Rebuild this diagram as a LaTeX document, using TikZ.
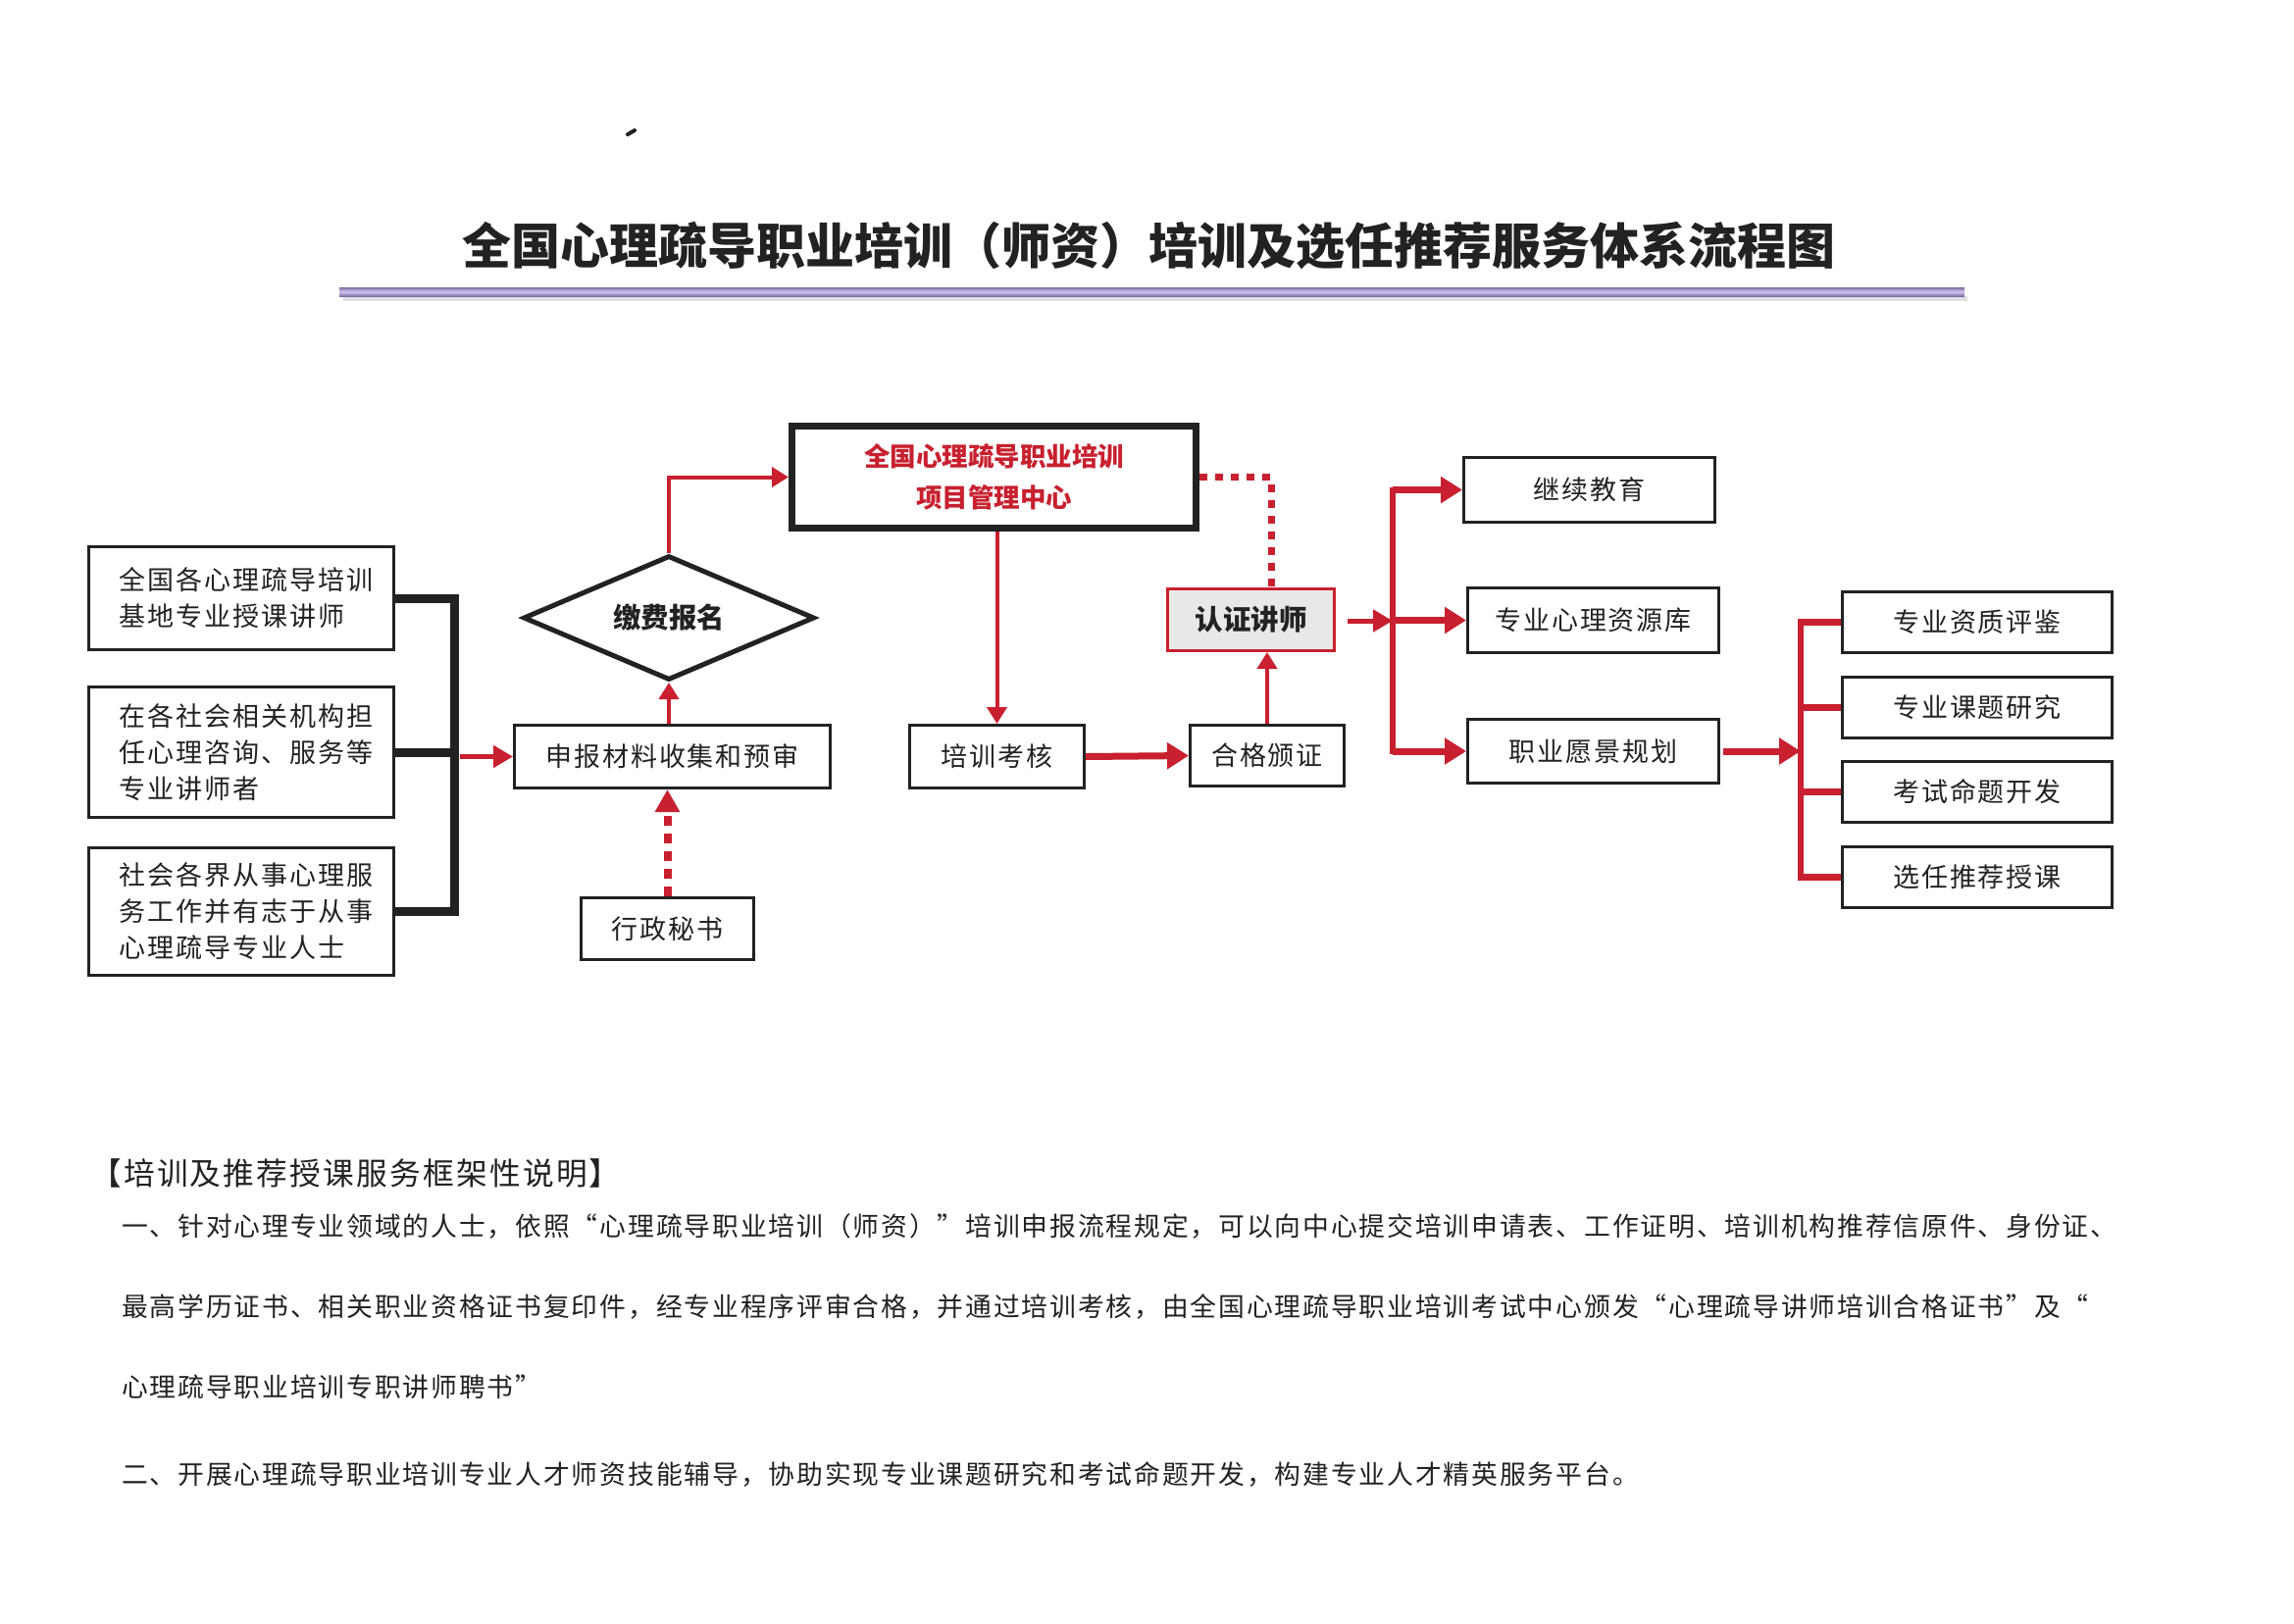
\documentclass[tikz,border=0pt]{standalone}
\usepackage{fontspec}
\newfontfamily\cjk[LetterSpace=7]{Noto Sans CJK SC}
\newfontfamily\cjkt{Noto Sans CJK SC}
\usetikzlibrary{arrows.meta,shapes.geometric}
\definecolor{cred}{RGB}{200,32,46}
\definecolor{cblk}{RGB}{34,34,34}
\definecolor{cgray}{RGB}{232,232,232}
\definecolor{pdark}{RGB}{125,108,165}
\definecolor{plight}{RGB}{210,198,238}
\begin{document}
\begin{tikzpicture}[x=1pt,y=-1pt,
  box/.style={draw=cblk, line width=3pt, inner sep=0pt, text=cblk,
    font=\cjk\fontsize{27}{37}\selectfont},
  lbox/.style={box, minimum width=311pt, align=left},
  rbox/.style={box, minimum width=275pt, minimum height=62pt},
  mbox/.style={box, minimum width=256pt, minimum height=66pt},
  mainbox/.style={draw=cblk, line width=7pt, inner sep=0pt, text=cred, align=center,
    minimum width=412pt, minimum height=104pt,
    font=\cjkt\bfseries\fontsize{26.5}{42}\selectfont},
  diabox/.style={draw=cblk, line width=5pt, shape=diamond, aspect=2.29, inner sep=0pt,
    minimum width=297pt, minimum height=127pt, text=cblk,
    font=\cjkt\bfseries\fontsize{28.5}{32}\selectfont},
  rzstyle/.style={draw=cred, fill=cgray, line width=3pt, inner sep=0pt, text=cblk,
    minimum width=170pt, minimum height=63pt,
    font=\cjkt\bfseries\fontsize{28.5}{32}\selectfont},
  para/.style={anchor=west, inner sep=0pt, text=cblk, font=\cjk\fontsize{26.8}{32}\selectfont},
  blkline/.style={draw=cblk, line width=9pt, line join=miter},
  rthin/.style={draw=cred, line width=4pt, -{Triangle[length=17pt,width=20pt]}},
  rmid/.style={draw=cred, line width=5pt, -{Triangle[length=20pt,width=22pt]}},
  rthick/.style={draw=cred, line width=7pt, -{Triangle[length=22pt,width=26pt]}},
  rbar/.style={draw=cred, line width=6pt, line cap=rect},
  rstub/.style={draw=cred, line width=7pt},
  rdots/.style={draw=cred, line width=7pt, dash pattern=on 8pt off 8pt},
  rdash/.style={draw=cred, line width=8pt, dash pattern=on 10pt off 8pt,
    -{Triangle[length=23pt,width=24pt]}}
]
\useasboundingbox[fill=white] (0,0) rectangle (2339,1655);

% stray mark
\draw[cblk, line width=4pt, line cap=round] (640,137) -- (647,133);

% title
\node[inner sep=0pt, text=cblk, font=\cjkt\bfseries\fontsize{50}{58}\selectfont] (title) at (1171,251)
  {全国心理疏导职业培训（师资）培训及选任推荐服务体系流程图};
\fill[black!12] (350,302) rectangle (2006,307);
\shade[top color=pdark, bottom color=pdark, middle color=plight] (346,293) rectangle (2003,302);

% left boxes
\node[lbox, minimum height=105pt] (b1) at (246,610) {\hspace*{10pt}全国各心理疏导培训\\\hspace*{10pt}基地专业授课讲师};
\node[lbox, minimum height=133pt] (b2) at (246,767) {\hspace*{10pt}在各社会相关机构担\\\hspace*{10pt}任心理咨询、服务等\\\hspace*{10pt}专业讲师者};
\node[lbox, minimum height=130pt] (b3) at (246,929.5) {\hspace*{10pt}社会各界从事心理服\\\hspace*{10pt}务工作并有志于从事\\\hspace*{10pt}心理疏导专业人士};

\node[box, minimum width=322pt, minimum height=64pt] (sb) at (685.5,771.5) {申报材料收集和预审};
\node[diabox] (dia) at (682,630) {缴费报名};
\node[box, minimum width=176pt, minimum height=63pt] (xz) at (680.5,947) {行政秘书};

\node[mainbox] (main) at (1013.5,486.5) {全国心理疏导职业培训\\项目管理中心};
\node[box, minimum width=178pt, minimum height=64pt] (px) at (1016.5,771.5) {培训考核};
\node[box, minimum width=157pt, minimum height=62pt] (hg) at (1292,770.5) {合格颁证};
\node[rzstyle] (rz) at (1275.5,632) {认证讲师};

\node[mbox] (jx) at (1620.5,499.5) {继续教育};
\node[mbox] (zy) at (1624.5,632.5) {专业心理资源库};
\node[mbox, minimum height=65pt] (zyy) at (1624.5,766) {职业愿景规划};

\node[rbox] (r1) at (2016,634) {专业资质评鉴};
\node[rbox] (r2) at (2016,721) {专业课题研究};
\node[rbox] (r3) at (2016,807.5) {考试命题开发};
\node[rbox] (r4) at (2016,894.5) {选任推荐授课};

% connectors
\coordinate (bk) at (463,771.5);
\coordinate (bka) at (469,771.5);
\draw[blkline] (b1.east) -| (bk) |- (b3.east);
\draw[blkline] (b2.east) -- (b2.east -| bk);
\draw[rmid] (bka) -- (sb.west);
\draw[rthin] (dia.south |- sb.north) -- (dia.south);
\draw[rthin] (dia.north) |- (main.west);
\draw[rdash] (xz.north) -- (xz.north |- sb.south);
\draw[rthin] (px.north |- main.south) -- (px.north);
\draw[rthick] (px.east) -- (hg.west);
\draw[rthin] (hg.north) -- (hg.north |- rz.south);
\draw[rdots] (main.east) -| ([xshift=20.5pt]rz.north);

\coordinate (rs) at (1420,633);
\coordinate (rsa) at (1374,633);
\draw[rmid] (rsa) -- (rs);
\draw[rbar] (rs |- jx.west) -- (rs |- zyy.west);
\draw[rthick] (rs |- jx.west) -- (jx.west);
\draw[rthick] (rs |- zy.west) -- (zy.west);
\draw[rthick] (rs |- zyy.west) -- (zyy.west);

\coordinate (rt) at (1836,766);
\coordinate (rta) at (1757,766);
\draw[rthick] (rta) -- (rt);
\draw[rbar] (rt |- r1.west) -- (rt |- r4.west);
\draw[rstub] (rt |- r1.west) -- (r1.west);
\draw[rstub] (rt |- r2.west) -- (r2.west);
\draw[rstub] (rt |- r3.west) -- (r3.west);
\draw[rstub] (rt |- r4.west) -- (r4.west);

% explanation text
\node[para, font=\cjk\fontsize{31.7}{36}\selectfont] (h0) at (92,1196) {【培训及推荐授课服务框架性说明】};
\node[para] (p1) at (124,1250) {一、针对心理专业领域的人士，依照“心理疏导职业培训（师资）”培训申报流程规定，可以向中心提交培训申请表、工作证明、培训机构推荐信原件、身份证、};
\node[para] (p2) at (124,1333) {最高学历证书、相关职业资格证书复印件，经专业程序评审合格，并通过培训考核，由全国心理疏导职业培训考试中心颁发“心理疏导讲师培训合格证书”及“};
\node[para] (p3) at (124,1414) {心理疏导职业培训专职讲师聘书”};
\node[para] (p4) at (124,1503) {二、开展心理疏导职业培训专业人才师资技能辅导，协助实现专业课题研究和考试命题开发，构建专业人才精英服务平台。};
\end{tikzpicture}
\end{document}
